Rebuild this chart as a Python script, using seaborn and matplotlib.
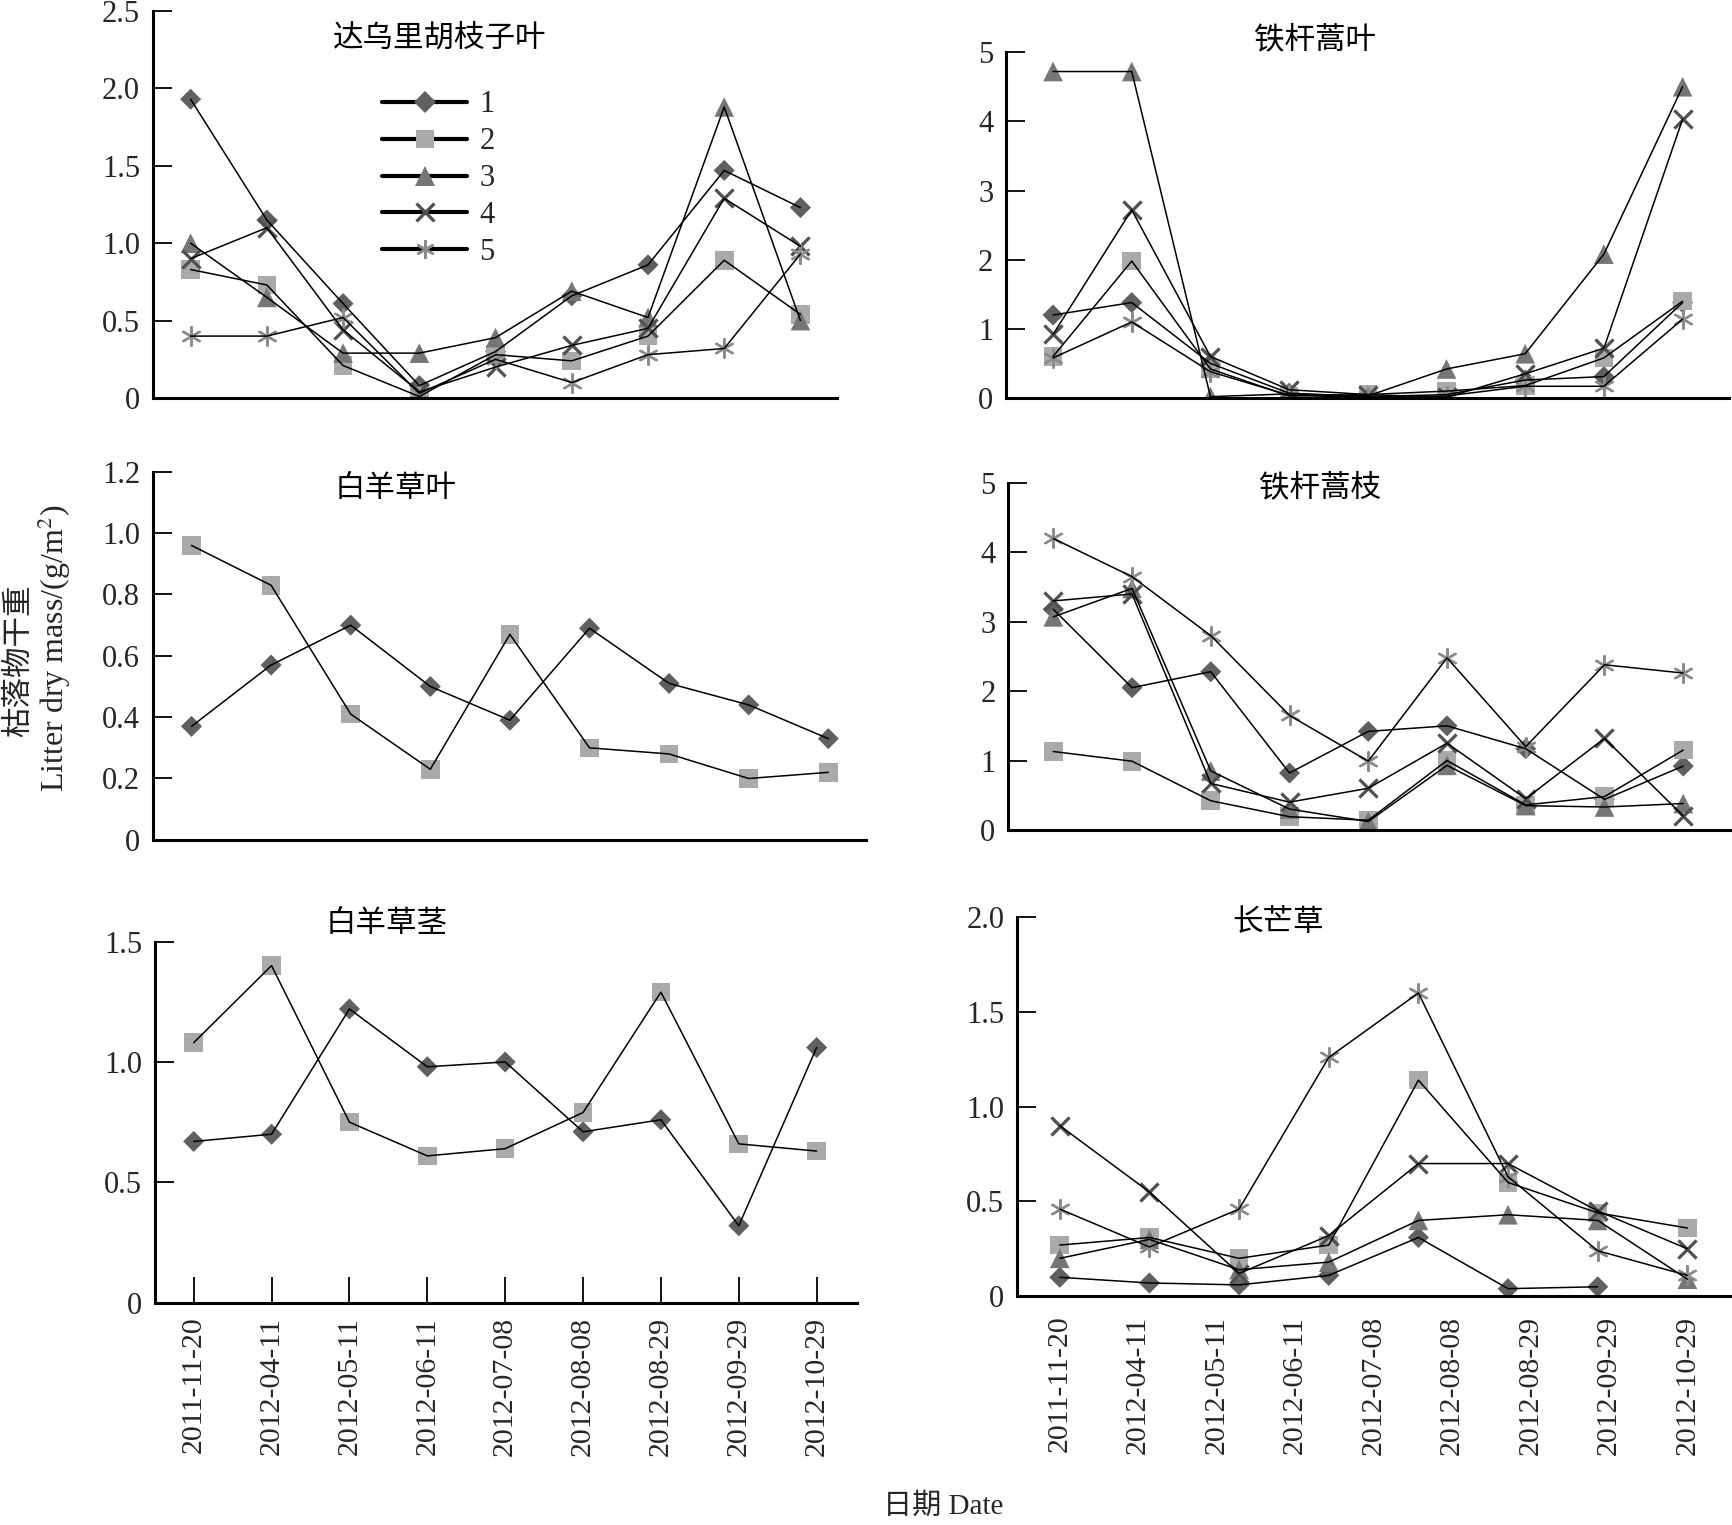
import numpy as np
import pandas as pd
import matplotlib
matplotlib.use('Agg')
import matplotlib.pyplot as plt
import seaborn as sns
from matplotlib.lines import Line2D
from matplotlib.ticker import FuncFormatter

# ---- datos ----
dates = ['2011-11-20', '2012-04-11', '2012-05-11', '2012-06-11', '2012-07-08',
         '2012-08-08', '2012-08-29', '2012-09-29', '2012-10-29']
series_names = ['1', '2', '3', '4', '5']

# 达乌里胡枝子叶
lesp_1 = [1.93, 1.15, 0.61, 0.08, 0.30, 0.66, 0.86, 1.47, 1.23]
lesp_2 = [0.83, 0.73, 0.21, 0.01, 0.28, 0.24, 0.40, 0.89, 0.54]
lesp_3 = [1.00, 0.65, 0.29, 0.29, 0.39, 0.69, 0.52, 1.88, 0.50]
lesp_4 = [0.90, 1.10, 0.44, 0.04, 0.20, 0.34, 0.45, 1.29, 0.98]
lesp_5 = [0.40, 0.40, 0.52, 0.03, 0.25, 0.10, 0.28, 0.32, 0.93]

# 铁杆蒿叶
artl_1 = [1.20, 1.38, 0.50, 0.07, 0.02, 0.05, 0.26, 0.31, 1.38]
artl_2 = [0.60, 1.98, 0.42, 0.03, 0.05, 0.10, 0.18, 0.58, 1.40]
artl_3 = [4.72, 4.72, 0.02, 0.06, 0.03, 0.42, 0.64, 2.08, 4.50]
artl_4 = [0.92, 2.72, 0.60, 0.12, 0.05, 0.01, 0.35, 0.72, 4.03]
artl_5 = [0.58, 1.10, 0.38, 0.04, 0.01, 0.03, 0.17, 0.17, 1.14]

# 白羊草叶
bothl_1 = [0.37, 0.57, 0.70, 0.50, 0.39, 0.69, 0.51, 0.44, 0.33]
bothl_2 = [0.96, 0.83, 0.41, 0.23, 0.67, 0.30, 0.28, 0.20, 0.22]

# 铁杆蒿枝
arts_1 = [3.18, 2.05, 2.28, 0.82, 1.42, 1.50, 1.17, 0.44, 0.92]
arts_2 = [1.13, 0.99, 0.42, 0.19, 0.14, 1.00, 0.36, 0.48, 1.15]
arts_3 = [3.07, 3.48, 0.85, 0.30, 0.12, 0.93, 0.35, 0.33, 0.38]
arts_4 = [3.30, 3.40, 0.67, 0.40, 0.60, 1.25, 0.45, 1.32, 0.20]
arts_5 = [4.20, 3.65, 2.80, 1.65, 0.99, 2.48, 1.20, 2.38, 2.26]

# 白羊草茎
boths_1 = [0.67, 0.70, 1.22, 0.98, 1.00, 0.71, 0.76, 0.32, 1.06]
boths_2 = [1.08, 1.40, 0.75, 0.61, 0.64, 0.79, 1.29, 0.66, 0.63]

# 长芒草 (8 columnas de datos)
stipa_1 = [0.10, 0.07, 0.06, 0.11, 0.31, 0.04, 0.05, np.nan]
stipa_2 = [0.27, 0.31, 0.20, 0.27, 1.14, 0.60, 0.44, 0.36]
stipa_3 = [0.20, 0.30, 0.14, 0.18, 0.40, 0.43, 0.40, 0.09]
stipa_4 = [0.90, 0.55, 0.12, 0.32, 0.70, 0.70, 0.45, 0.25]
stipa_5 = [0.46, 0.26, 0.46, 1.26, 1.60, 0.63, 0.24, 0.11]

# ---- estilos ----
sns.set_theme(style='ticks')
plt.rcParams['font.family'] = ['Liberation Serif', 'Noto Sans CJK SC']
plt.rcParams['mathtext.fontset'] = 'stix'
plt.rcParams['axes.unicode_minus'] = False

STY = {
    '1': dict(marker='D', s=115, color='#606060', linewidth=0),
    '2': dict(marker='s', s=180, color='#aaaaaa', linewidth=0),
    '3': dict(marker='^', s=200, color='#767676', linewidth=0),
    '4': dict(marker='x', s=170, color='#505050', linewidth=2.3),
    '5': dict(marker=(6, 2, 0), s=180, color='#8c8c8c', linewidth=1.7),
}


def fmt(v, pos):
    if abs(v) < 1e-9:
        return '0'
    return f'{v:.1f}'


def draw(ax, series, ymax, ystep, xlim, title, tpos, decimals=True):
    for name, vals in zip(series_names, series):
        df = pd.DataFrame({'x': np.arange(len(vals)), 'y': vals}).dropna()
        st = STY[name]
        kw = dict(st)
        if st['linewidth'] == 0:
            kw['edgecolor'] = 'none'
        sns.scatterplot(data=df, x='x', y='y', ax=ax, zorder=2, legend=False, **kw)
        sns.lineplot(data=df, x='x', y='y', ax=ax, color='black', lw=1.1,
                     zorder=3, sort=False, estimator=None)
    ax.set_ylim(0, ymax)
    ax.set_xlim(*xlim)
    ax.set_yticks(np.arange(0, ymax + 1e-6, ystep))
    if decimals:
        ax.yaxis.set_major_formatter(FuncFormatter(fmt))
    ax.tick_params(axis='y', direction='in', length=14, width=1.3, pad=9,
                   labelsize=22, color='black')
    ax.set_xticks([])
    ax.set_xlabel('')
    ax.set_ylabel('')
    for sp in ['top', 'right']:
        ax.spines[sp].set_visible(False)
    for sp in ['left', 'bottom']:
        ax.spines[sp].set_linewidth(2.2)
        ax.spines[sp].set_color('black')
    ax.set_facecolor('white')
    ax.text(tpos[0], tpos[1], title, transform=ax.transAxes, ha='center',
            va='center', fontsize=22, family=['Noto Sans CJK SC'], color='black')


fig = plt.figure(figsize=(17.33, 15.25), dpi=100)

ax1 = fig.add_axes([0.088, 0.739, 0.395, 0.2538])
draw(ax1, [lesp_1, lesp_2, lesp_3, lesp_4, lesp_5], 2.5, 0.5, (-0.5, 8.48),
     '达乌里胡枝子叶', (0.42, 0.93))

ax2 = fig.add_axes([0.5804, 0.739, 0.4173, 0.2268])
draw(ax2, [artl_1, artl_2, artl_3, artl_4, artl_5], 5, 1, (-0.6, 8.59),
     '铁杆蒿叶', (0.427, 1.035), decimals=False)

ax3 = fig.add_axes([0.088, 0.4493, 0.412, 0.2413])
draw(ax3, [bothl_1, bothl_2], 1.2, 0.2, (-0.49, 8.48),
     '白羊草叶', (0.34, 0.955))

ax4 = fig.add_axes([0.5816, 0.4558, 0.4165, 0.2275])
draw(ax4, [arts_1, arts_2, arts_3, arts_4, arts_5], 5, 1, (-0.576, 8.59),
     '铁杆蒿枝', (0.433, 0.985), decimals=False)

ax5 = fig.add_axes([0.0893, 0.1457, 0.4053, 0.2369])
draw(ax5, [boths_1, boths_2], 1.5, 0.5, (-0.5, 8.52),
     '白羊草茎', (0.33, 1.05))
ax5.set_xticks(np.arange(len(dates)))
ax5.set_xticklabels(dates, rotation=90)
ax5.tick_params(axis='x', direction='in', length=19, width=1.3, pad=10,
                labelsize=21.5, color='black')

ax6 = fig.add_axes([0.5867, 0.15, 0.4113, 0.2486])
draw(ax6, [stipa_1, stipa_2, stipa_3, stipa_4, stipa_5], 2.0, 0.5, (-0.48, 7.47),
     '长芒草', (0.367, 0.985))
ax6.set_xticks(np.linspace(0, len(stipa_2) - 1, len(dates)))
ax6.set_xticklabels(dates, rotation=90)
ax6.tick_params(axis='x', direction='in', length=0, pad=14,
                labelsize=21.5, color='black')

# leyenda del primer panel
handles = []
for name in series_names:
    st = STY[name]
    ms = np.sqrt(st['s'])
    handles.append(Line2D([], [], color='black', lw=3, marker=st['marker'],
                          markersize=ms, markerfacecolor=st['color'],
                          markeredgecolor=st['color'] if st['linewidth'] > 0 else 'none',
                          markeredgewidth=st['linewidth']))
ax1.legend(handles, series_names, loc='upper left', bbox_to_anchor=(0.335, 0.795),
           frameon=False, fontsize=22, handlelength=2.8, handletextpad=0.4,
           labelspacing=0.26, borderpad=0, borderaxespad=0)

# etiquetas comunes
fig.text(0.0105, 0.567, '枯落物干重', rotation=90, ha='center', va='center',
         fontsize=22, family=['Noto Sans CJK SC'])
fig.text(0.031, 0.575, 'Litter dry mass/(g/m$^2$)', rotation=90, ha='center',
         va='center', fontsize=23)
fig.text(0.544, 0.0123, '日期 Date', ha='center', va='center', fontsize=21)

fig.patch.set_facecolor('white')
fig.savefig('out.png', dpi=100, facecolor='white')
